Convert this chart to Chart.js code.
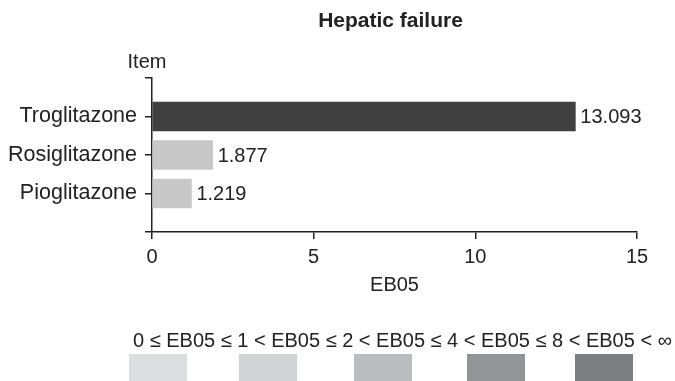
<!DOCTYPE html>
<html>
<head>
<meta charset="utf-8">
<script src="https://cdn.jsdelivr.net/npm/chart.js@4.4.0/dist/chart.umd.min.js"></script>
<style>
  html, body { margin: 0; padding: 0; background: #fff; }
  #wrap { width: 675px; height: 381px; position: relative; }
</style>
</head>
<body>
<div id="wrap"><canvas id="chart"></canvas></div>
<script>
// padded with empty slots top and bottom so the axis runs past the bars
const items = ['', 'Troglitazone', 'Rosiglitazone', 'Pioglitazone', ''];
const eb05 = [null, 13.093, 1.877, 1.219, null];
const barColors = [null, '#404040', '#c8c8c8', '#c8c8c8', null];
const xTicks = [0, 5, 10, 15];
const legendText = '0 \u2264 EB05 \u2264 1 < EB05 \u2264 2 < EB05 \u2264 4 < EB05 \u2264 8 < EB05 < \u221E';
const legendColors = ['#dcdddf', '#d1d2d4', '#bbbcbf', '#939497', '#7e7f82'];

const FONT = '"Liberation Sans", Arial, Helvetica, sans-serif';
const INK = '#222';
const swatchX = [129, 239, 354, 467, 575];

const extras = {
    id: 'extras',
    afterDatasetsDraw(chart) {
        const ctx = chart.ctx;
        const meta = chart.getDatasetMeta(0);
        ctx.save();
        ctx.fillStyle = INK;
        ctx.font = `20px ${FONT}`;
        ctx.textAlign = 'left';
        ctx.textBaseline = 'middle';
        meta.data.forEach((bar, i) => {
            if (eb05[i] == null) return;
            ctx.fillText(eb05[i].toFixed(3), bar.x + 5, bar.y + 1);
        });
        ctx.restore();
    },
    afterDraw(chart) {
        const ctx = chart.ctx;
        const area = chart.chartArea;
        ctx.save();
        ctx.fillStyle = INK;
        ctx.textBaseline = 'middle';

        ctx.font = `bold 21px ${FONT}`;
        ctx.textAlign = 'center';
        ctx.fillText('Hepatic failure', (area.left + area.right) / 2 - 4, 21);

        ctx.font = `20px ${FONT}`;
        ctx.fillText('Item', area.left - 5, 62);

        ctx.textAlign = 'left';
        ctx.fillText(legendText, 133, 341);

        legendColors.forEach((c, i) => {
            ctx.fillStyle = c;
            ctx.fillRect(swatchX[i], 354, 58, 27);
        });
        ctx.restore();
    }
};

new Chart(document.getElementById('chart'), {
    type: 'bar',
    data: {
        labels: items,
        datasets: [{
            data: eb05,
            backgroundColor: barColors,
            borderColor: barColors,
            borderWidth: 0,
            barThickness: 29
        }]
    },
    options: {
        indexAxis: 'y',
        responsive: true,
        maintainAspectRatio: false,
        devicePixelRatio: 1,
        animation: false,
        layout: { padding: { top: 78, right: 38, bottom: 81, left: 0 } },
        plugins: {
            legend: { display: false },
            tooltip: { enabled: false }
        },
        scales: {
            x: {
                type: 'linear',
                min: 0,
                max: 15,
                afterBuildTicks: scale => { scale.ticks = xTicks.map(v => ({ value: v })); },
                afterFit: scale => { scale.height = 68; },
                grid: { drawOnChartArea: false, drawTicks: true, tickLength: 7, color: INK, lineWidth: 1.5 },
                border: { display: true, color: INK, width: 1.5 },
                ticks: { color: INK, padding: 6, font: { family: FONT, size: 20 } },
                title: { display: true, text: 'EB05', color: INK, font: { family: FONT, size: 20 }, padding: { top: 0, bottom: 3 } }
            },
            y: {
                offset: false,
                afterFit: scale => { scale.width = 152; },
                grid: { offset: false, drawOnChartArea: false, drawTicks: true, tickLength: 7, color: INK, lineWidth: 1.5 },
                border: { display: true, color: INK, width: 1.5 },
                ticks: { color: INK, padding: 8, autoSkip: false, font: { family: FONT, size: 21.5 } }
            }
        }
    },
    plugins: [extras]
});
</script>
</body>
</html>
